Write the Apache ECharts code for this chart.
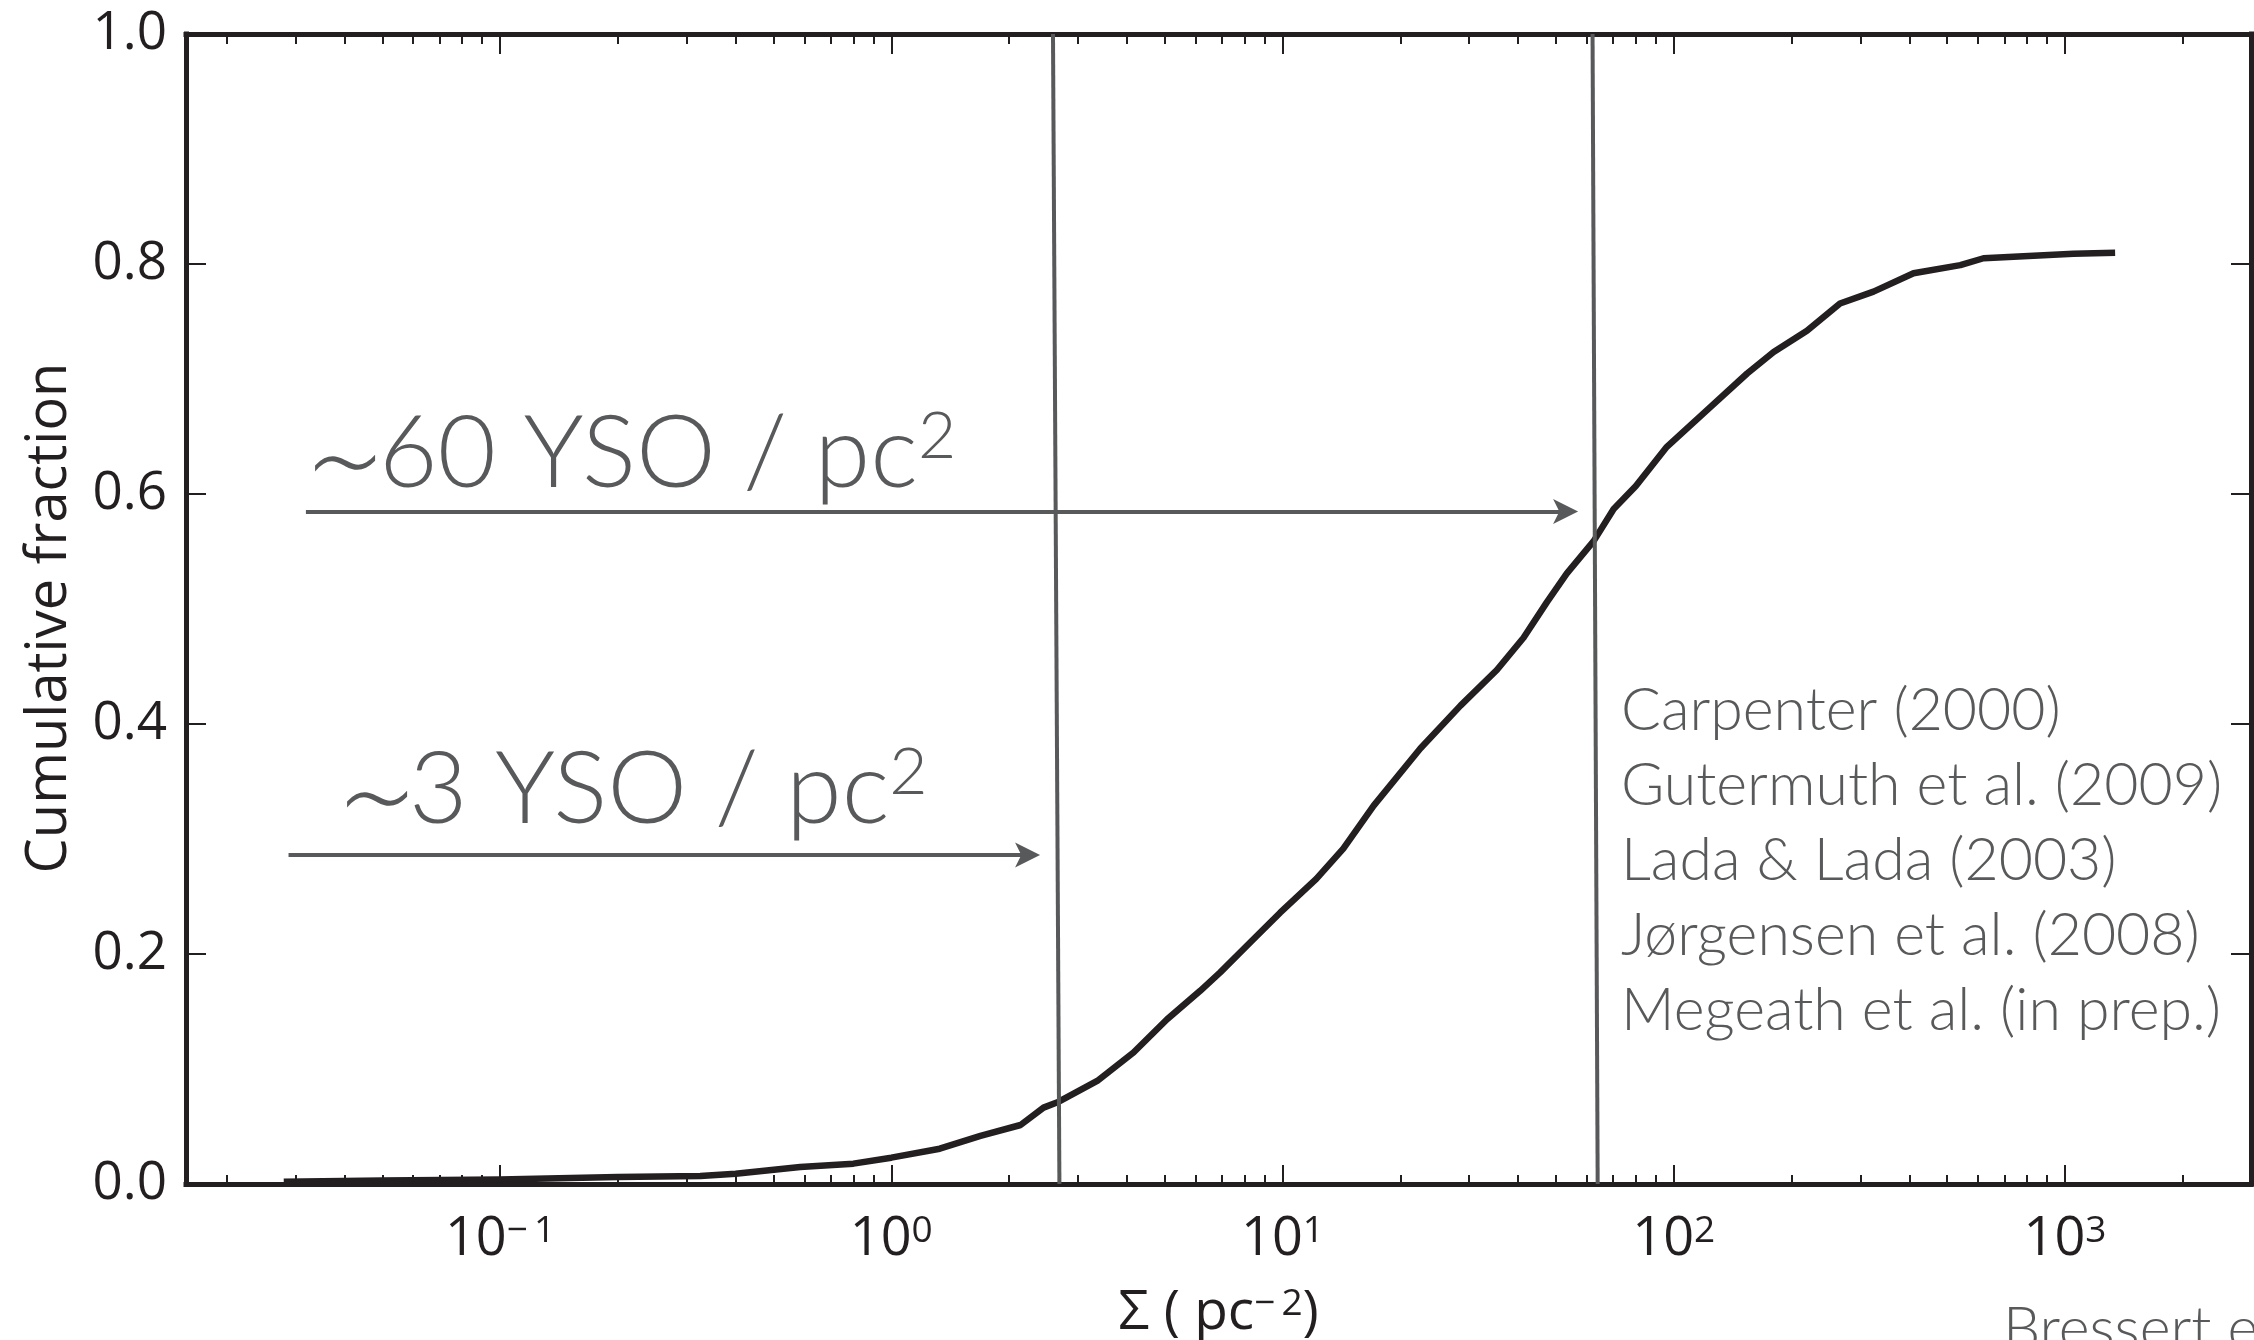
<!DOCTYPE html>
<html>
<head>
<meta charset="utf-8">
<title>Cumulative fraction of YSO surface density</title>
<script src="https://cdn.jsdelivr.net/npm/echarts@6.0.0/dist/echarts.min.js"></script>
<style>
  html, body { margin: 0; padding: 0; background: #ffffff; }
  #chart { width: 2254px; height: 1340px; }
</style>
</head>
<body>
<div id="chart"></div>
<script>
// Surface density of young stellar objects, Σ (pc^-2), against cumulative fraction
const sigma = [0.028, 0.05, 0.1, 0.2, 0.325, 0.40, 0.585, 0.80, 1.0, 1.33, 1.69, 2.14, 2.45, 2.68,
  3.36, 4.16, 5.07, 6.16, 6.93, 8.35, 9.86, 12.2, 14.3, 17.1, 22.5, 28.5, 35.3, 41.3, 47.4, 53.3,
  62.4, 70.2, 80, 96, 124, 154, 180, 219, 266, 324, 410, 540, 619, 1051, 1343];
const cumulativeFraction = [0.002, 0.003, 0.004, 0.006, 0.007, 0.009, 0.0148, 0.0177, 0.0229, 0.0307,
  0.0418, 0.0513, 0.0664, 0.0716, 0.0896, 0.1143, 0.1433, 0.168, 0.184, 0.2115, 0.2359, 0.2653,
  0.2917, 0.329, 0.3787, 0.416, 0.447, 0.475, 0.506, 0.531, 0.559, 0.587, 0.607, 0.641, 0.6756,
  0.7048, 0.7235, 0.742, 0.7656, 0.776, 0.792, 0.799, 0.805, 0.809, 0.8097];

// Axis ticks and labels
const xMajorTicks = [0.1, 1, 10, 100, 1000];
const xMajorExponents = ['−\u20091', '0', '1', '2', '3'];
const xMinorMultipliers = [2, 3, 4, 5, 6, 7, 8, 9];
const xMinorDecades = [0.01, 0.1, 1, 10, 100, 1000];
const yTickStep = 0.2;

// Vertical guides at the two characteristic densities (lower and upper ends of each guide)
const guideSigmaBottom = [2.69, 63.9];
const guideSigmaTop = [2.59, 62.0];

// Arrows pointing at the guides
const arrowStart = [0.0288, 0.0319];
const arrowEnd = [2.23, 52.9];
const arrowLevel = [0.2861, 0.5848];
const arrowDensity = ['3', '60'];

const references = [
  'Carpenter (2000)',
  'Gutermuth et al. (2009)',
  'Lada & Lada (2003)',
  'Jørgensen et al. (2008)',
  'Megeath et al. (in prep.)'
];
const credit = 'Bressert et al. (2010)';

// ---------------------------------------------------------------------------
const INK = '#231f20';
const GREY = '#58595b';
const X_MIN = 0.015751;
const X_MAX = 2988;

const xMinorTicks = [];
xMinorDecades.forEach(d => xMinorMultipliers.forEach(m => xMinorTicks.push(d * m)));

const xLabelRich = {
  b: { fontFamily: 'Open Sans', fontSize: 54, lineHeight: 54, color: INK },
  s: { fontFamily: 'Open Sans', fontSize: 37, lineHeight: 24, verticalAlign: 'top', color: INK }
};

function xAxisFor(position, ticks, tickLength, showLine, withLabels) {
  const axis = {
    type: 'log',
    logBase: 10,
    min: X_MIN,
    max: X_MAX,
    position: position,
    axisLine: { show: showLine, onZero: false, lineStyle: { color: INK, width: 5, cap: 'square' } },
    axisTick: { show: true, inside: true, length: tickLength, customValues: ticks,
      lineStyle: { color: INK, width: 2 } },
    axisLabel: { show: false },
    minorTick: { show: false },
    splitLine: { show: false },
    minorSplitLine: { show: false }
  };
  if (withLabels) {
    axis.axisLabel = {
      show: true,
      customValues: xMajorTicks,
      margin: 29,
      formatter: function (v) {
        const i = Math.round(Math.log10(v)) + 1;
        return '{b|10}{s|' + xMajorExponents[i] + '}';
      },
      rich: xLabelRich
    };
    axis.name = '{b|Σ ( pc}{s|−\u20092}{b|)}';
    axis.nameLocation = 'middle';
    axis.nameGap = 102;
    axis.nameTextStyle = {
      rich: {
        b: { fontFamily: 'Open Sans', fontSize: 55, lineHeight: 55, color: INK },
        s: { fontFamily: 'Open Sans', fontSize: 37, lineHeight: 23, verticalAlign: 'top', color: INK }
      }
    };
  }
  return axis;
}

function yAxisFor(position, withLabels) {
  const axis = {
    type: 'value',
    min: 0,
    max: 1,
    interval: yTickStep,
    position: position,
    axisLine: { show: true, onZero: false, lineStyle: { color: INK, width: 5, cap: 'square' } },
    axisTick: { show: true, inside: true, length: 20, lineStyle: { color: INK, width: 2 } },
    axisLabel: { show: false },
    splitLine: { show: false }
  };
  if (withLabels) {
    axis.axisLabel = {
      show: true,
      margin: 19,
      padding: [7, 0, 0, 0],
      fontFamily: 'Open Sans',
      fontSize: 53,
      color: INK,
      formatter: v => v.toFixed(1)
    };
    axis.name = 'Cumulative fraction';
    axis.nameLocation = 'middle';
    axis.nameRotate = 90;
    axis.nameGap = 108;
    axis.nameTextStyle = { fontFamily: 'Open Sans', fontSize: 56, color: INK, padding: [0, 18, 0, 0] };
  }
  return axis;
}

const curveData = sigma.map((s, i) => [s, cumulativeFraction[i]]);

const guideSeries = guideSigmaBottom.map((b, i) => ({
  type: 'line',
  data: [[b, 0], [guideSigmaTop[i], 1]],
  showSymbol: false,
  symbol: 'none',
  silent: true,
  z: 5,
  lineStyle: { color: GREY, width: 4 }
}));

const arrowSeries = {
  type: 'lines',
  coordinateSystem: 'cartesian2d',
  xAxisIndex: 0,
  yAxisIndex: 0,
  silent: true,
  z: 6,
  symbol: ['none', 'path://M50,0 L98,100 L50,75 L2,100 Z'],
  symbolSize: 25,
  lineStyle: { color: GREY, width: 4, opacity: 1, curveness: 0 },
  data: arrowStart.map((s, i) => ({ coords: [[s, arrowLevel[i]], [arrowEnd[i], arrowLevel[i]]] }))
};

// Annotation labels above the arrows: a wide tilde followed by the density
const annotationRich = {
  n: { fontFamily: 'Lato', fontWeight: 300, fontSize: 101, lineHeight: 101, fill: GREY },
  s: { fontFamily: 'Lato', fontWeight: 300, fontSize: 66, lineHeight: 56, verticalAlign: 'top', fill: GREY }
};
const tildeX = [337, 305];
const tildeY = [810, 474];
const annotationX = [409, 379];
const annotationBottom = [841, 505];

const graphics = [];
arrowDensity.forEach((d, i) => {
  graphics.push({
    type: 'text',
    x: tildeX[i],
    y: tildeY[i],
    silent: true,
    style: {
      text: '∼',
      fontFamily: 'DejaVu Sans',
      fontWeight: 200,
      fontSize: 126,
      fill: GREY,
      align: 'left',
      verticalAlign: 'middle'
    }
  });
  graphics.push({
    type: 'text',
    x: annotationX[i],
    y: annotationBottom[i],
    silent: true,
    style: {
      text: '{n|' + d + ' YSO / pc}{s|2}',
      rich: annotationRich,
      align: 'left',
      verticalAlign: 'bottom'
    }
  });
});

graphics.push({
  type: 'text',
  x: 1621,
  y: 673.5,
  silent: true,
  style: {
    text: references.join('\n'),
    fontFamily: 'Lato',
    fontWeight: 300,
    fontSize: 59,
    lineHeight: 75,
    fill: GREY,
    align: 'left',
    verticalAlign: 'top'
  }
});

graphics.push({
  type: 'text',
  x: 2003,
  y: 1292.5,
  silent: true,
  style: {
    text: credit,
    fontFamily: 'Lato',
    fontWeight: 300,
    fontSize: 59,
    lineHeight: 75,
    fill: GREY,
    align: 'left',
    verticalAlign: 'top'
  }
});

const chart = echarts.init(document.getElementById('chart'), null, { renderer: 'canvas' });
chart.setOption({
  animation: false,
  backgroundColor: '#ffffff',
  textStyle: { fontFamily: 'Open Sans' },
  grid: { left: 186, right: 3, top: 34, bottom: 156, containLabel: false, outerBoundsMode: 'none' },
  xAxis: [
    xAxisFor('bottom', xMajorTicks, 19, true, true),
    xAxisFor('bottom', xMinorTicks, 9, false, false),
    xAxisFor('top', xMajorTicks, 20, true, false),
    xAxisFor('top', xMinorTicks, 10, false, false)
  ],
  yAxis: [
    yAxisFor('left', true),
    yAxisFor('right', false)
  ],
  series: [
    {
      type: 'line',
      name: 'Cumulative fraction',
      data: curveData,
      xAxisIndex: 0,
      yAxisIndex: 0,
      showSymbol: false,
      symbol: 'none',
      z: 3,
      lineStyle: { color: INK, width: 6.5, join: 'round', cap: 'butt' }
    },
    ...guideSeries,
    arrowSeries
  ],
  graphic: graphics
});
</script>
</body>
</html>
